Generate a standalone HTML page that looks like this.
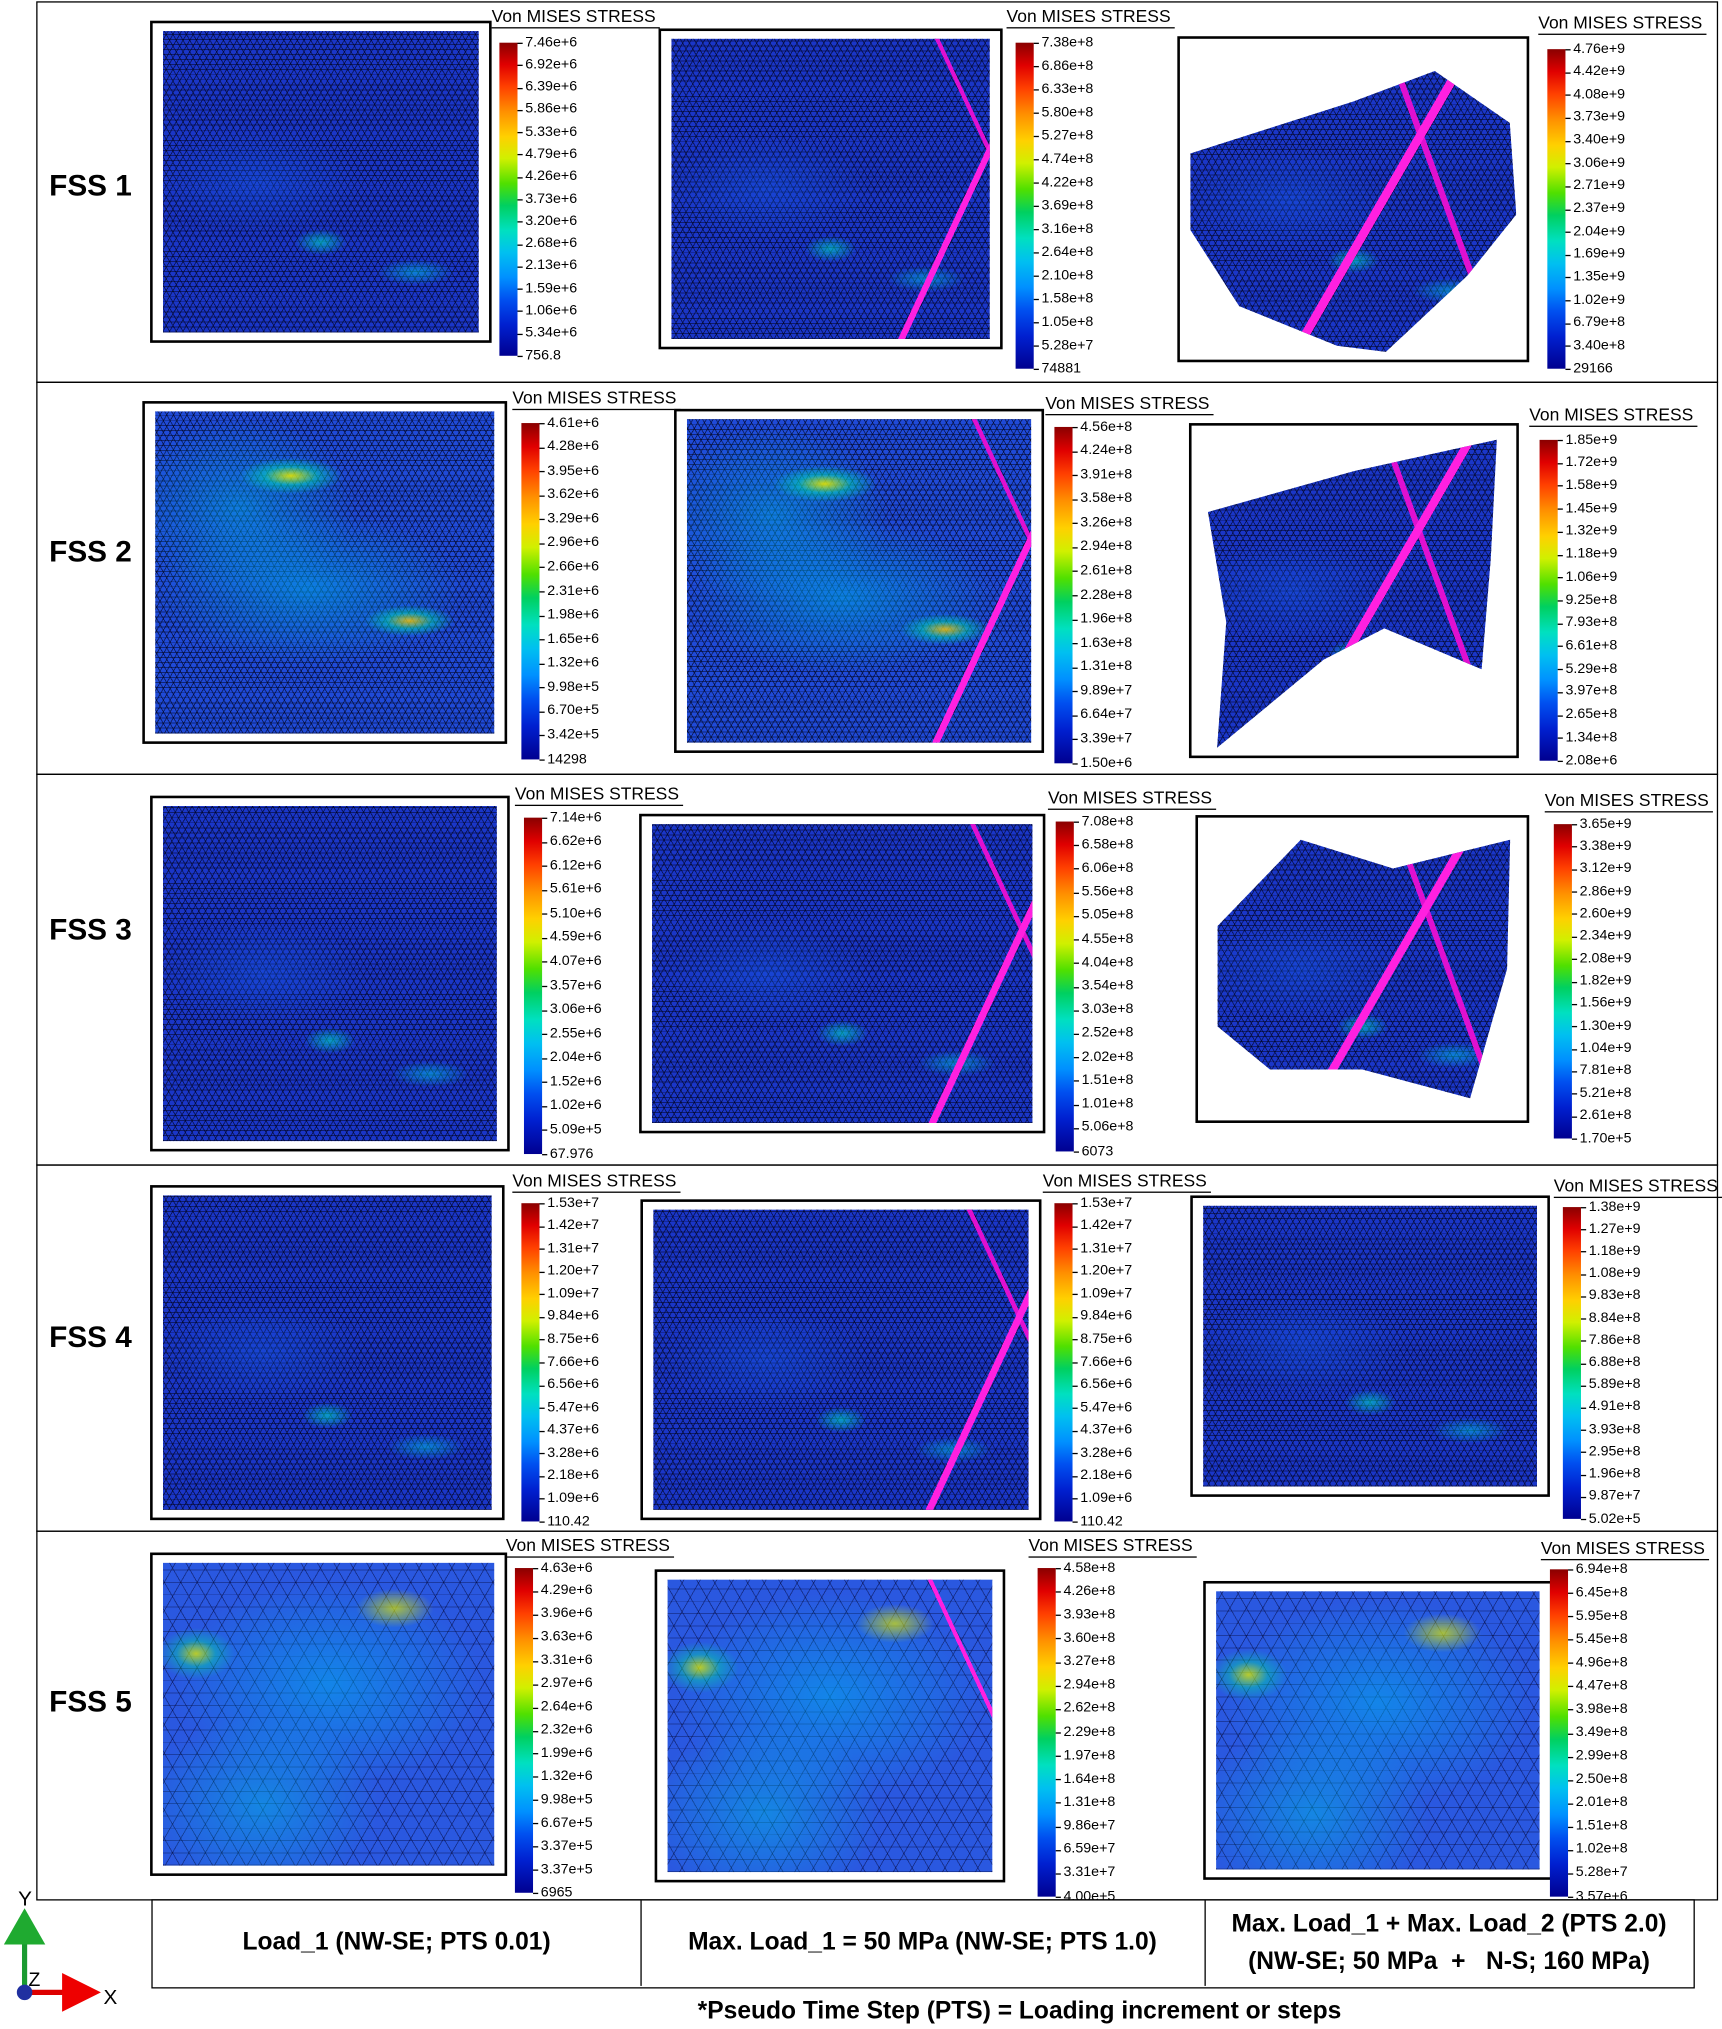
<!DOCTYPE html>
<html><head><meta charset="utf-8">
<style>
html,body{margin:0;padding:0;background:#fff;}
body{width:1722px;height:2029px;overflow:hidden;position:relative;font-family:"Liberation Sans",sans-serif;}
#wrap{position:absolute;left:0;top:0;width:1331px;height:1568px;transform:scale(1.29376);transform-origin:0 0;}
.row{position:absolute;left:28px;width:1300px;border:1.5px solid #000;box-sizing:border-box;}
.fss{position:absolute;left:38px;font-weight:bold;font-size:23px;color:#000;}
.frame{position:absolute;border:2px solid #000;box-sizing:border-box;background:#fff;}
.mesh{position:absolute;}
.title{position:absolute;font-size:13.5px;color:#000;white-space:nowrap;border-bottom:1.5px solid #000;padding-right:3px;line-height:16px;}
.bar{position:absolute;width:14px;background:linear-gradient(to bottom,#8a0000 0%,#e00000 7%,#ff4000 14%,#ff9000 22%,#ffd000 30%,#d0f000 37%,#50e000 45%,#00d060 52%,#00e0c0 60%,#00c0f0 67%,#0090ff 75%,#0050f0 82%,#0020d0 90%,#000090 100%);}
.lab{position:absolute;font-size:11px;color:#000;white-space:nowrap;line-height:11px;}
.tick{position:absolute;width:4px;height:1px;background:#000;}
.cell{position:absolute;display:flex;align-items:center;justify-content:center;text-align:center;font-weight:bold;font-size:19px;}
</style></head>
<body>
<div id="wrap">
<div class="row" style="top:1px;height:295px"></div>
<div class="row" style="top:295px;height:304px"></div>
<div class="row" style="top:598px;height:303px"></div>
<div class="row" style="top:900px;height:284px"></div>
<div class="row" style="top:1183px;height:286px"></div>
<div class="fss" style="top:130px">FSS 1</div>
<div class="fss" style="top:413px">FSS 2</div>
<div class="fss" style="top:705px">FSS 3</div>
<div class="fss" style="top:1020px">FSS 4</div>
<div class="fss" style="top:1302px">FSS 5</div>

<div style="position:absolute;left:117px;top:1468px;width:1193px;height:69px;border:1.5px solid #000;box-sizing:border-box">
 <div class="cell" style="left:0;top:0;width:377px;height:66px;border-right:1.5px solid #000">Load_1 (NW-SE; PTS 0.01)</div>
 <div class="cell" style="left:377px;top:0;width:436px;height:66px;border-right:1.5px solid #000">Max. Load_1 = 50 MPa (NW-SE; PTS 1.0)</div>
 <div class="cell" style="left:813px;top:0;width:378px;height:66px;line-height:29px">Max. Load_1 + Max. Load_2 (PTS 2.0)<br>(NW-SE; 50 MPa &nbsp;+ &nbsp; N-S; 160 MPa)</div>
</div>
<svg style="position:absolute;left:0;top:1455px" width="110" height="110">
 <text x="14" y="18" font-size="16" font-family="Liberation Sans">Y</text>
 <line x1="19" y1="85" x2="19" y2="40" stroke="#1a9a30" stroke-width="4"/>
 <polygon points="3,48 35,48 19,20" fill="#1faa30"/>
 <line x1="19" y1="85" x2="55" y2="85" stroke="#d00" stroke-width="4"/>
 <polygon points="48,70 48,100 78,85" fill="#e00"/>
 <circle cx="19" cy="85" r="6" fill="#2030a0"/>
 <text x="22" y="80" font-size="15" font-family="Liberation Sans">Z</text>
 <text x="80" y="94" font-size="16" font-family="Liberation Sans">X</text>
</svg>
<div style="position:absolute;left:0;width:1331px;top:1544px;text-align:center;padding-left:245px;box-sizing:border-box;font-weight:bold;font-size:19px">*Pseudo Time Step (PTS) = Loading increment or steps</div>
</div>

<script>
const labelsR1P1=["7.46e+6","6.92e+6","6.39e+6","5.86e+6","5.33e+6","4.79e+6","4.26e+6","3.73e+6","3.20e+6","2.68e+6","2.13e+6","1.59e+6","1.06e+6","5.34e+6","756.8"];
const labelsR1P2=["7.38e+8","6.86e+8","6.33e+8","5.80e+8","5.27e+8","4.74e+8","4.22e+8","3.69e+8","3.16e+8","2.64e+8","2.10e+8","1.58e+8","1.05e+8","5.28e+7","74881"];
const labelsR1P3=["4.76e+9","4.42e+9","4.08e+9","3.73e+9","3.40e+9","3.06e+9","2.71e+9","2.37e+9","2.04e+9","1.69e+9","1.35e+9","1.02e+9","6.79e+8","3.40e+8","29166"];
const labelsR2P1=["4.61e+6","4.28e+6","3.95e+6","3.62e+6","3.29e+6","2.96e+6","2.66e+6","2.31e+6","1.98e+6","1.65e+6","1.32e+6","9.98e+5","6.70e+5","3.42e+5","14298"];
const labelsR2P2=["4.56e+8","4.24e+8","3.91e+8","3.58e+8","3.26e+8","2.94e+8","2.61e+8","2.28e+8","1.96e+8","1.63e+8","1.31e+8","9.89e+7","6.64e+7","3.39e+7","1.50e+6"];
const labelsR2P3=["1.85e+9","1.72e+9","1.58e+9","1.45e+9","1.32e+9","1.18e+9","1.06e+9","9.25e+8","7.93e+8","6.61e+8","5.29e+8","3.97e+8","2.65e+8","1.34e+8","2.08e+6"];
const labelsR3P1=["7.14e+6","6.62e+6","6.12e+6","5.61e+6","5.10e+6","4.59e+6","4.07e+6","3.57e+6","3.06e+6","2.55e+6","2.04e+6","1.52e+6","1.02e+6","5.09e+5","67.976"];
const labelsR3P2=["7.08e+8","6.58e+8","6.06e+8","5.56e+8","5.05e+8","4.55e+8","4.04e+8","3.54e+8","3.03e+8","2.52e+8","2.02e+8","1.51e+8","1.01e+8","5.06e+8","6073"];
const labelsR3P3=["3.65e+9","3.38e+9","3.12e+9","2.86e+9","2.60e+9","2.34e+9","2.08e+9","1.82e+9","1.56e+9","1.30e+9","1.04e+9","7.81e+8","5.21e+8","2.61e+8","1.70e+5"];
const labelsR4P1=["1.53e+7","1.42e+7","1.31e+7","1.20e+7","1.09e+7","9.84e+6","8.75e+6","7.66e+6","6.56e+6","5.47e+6","4.37e+6","3.28e+6","2.18e+6","1.09e+6","110.42"];
const labelsR4P2=["1.53e+7","1.42e+7","1.31e+7","1.20e+7","1.09e+7","9.84e+6","8.75e+6","7.66e+6","6.56e+6","5.47e+6","4.37e+6","3.28e+6","2.18e+6","1.09e+6","110.42"];
const labelsR4P3=["1.38e+9","1.27e+9","1.18e+9","1.08e+9","9.83e+8","8.84e+8","7.86e+8","6.88e+8","5.89e+8","4.91e+8","3.93e+8","2.95e+8","1.96e+8","9.87e+7","5.02e+5"];
const labelsR5P1=["4.63e+6","4.29e+6","3.96e+6","3.63e+6","3.31e+6","2.97e+6","2.64e+6","2.32e+6","1.99e+6","1.32e+6","9.98e+5","6.67e+5","3.37e+5","3.37e+5","6965"];
const labelsR5P2=["4.58e+8","4.26e+8","3.93e+8","3.60e+8","3.27e+8","2.94e+8","2.62e+8","2.29e+8","1.97e+8","1.64e+8","1.31e+8","9.86e+7","6.59e+7","3.31e+7","4.00e+5"];
const labelsR5P3=["6.94e+8","6.45e+8","5.95e+8","5.45e+8","4.96e+8","4.47e+8","3.98e+8","3.49e+8","2.99e+8","2.50e+8","2.01e+8","1.51e+8","1.02e+8","5.28e+7","3.57e+6"];

const panels=[
 {r:1,p:1,f:[116,16,380,265],t:[380,5],b:[386,33,275],lab:labelsR1P1,st:"dark"},
 {r:1,p:2,f:[509,22,775,270],t:[778,5],b:[785,33,285],lab:labelsR1P2,st:"dark",mag:1},
 {r:1,p:3,f:[910,28,1182,280],t:[1189,10],b:[1196,38,285],lab:labelsR1P3,st:"dark",mag:2,warp:"polygon(0% 35%,50% 18%,75% 8%,98% 25%,100% 55%,85% 75%,60% 100%,45% 98%,15% 85%,0% 60%)"},
 {r:2,p:1,f:[110,310,392,575],t:[396,300],b:[403,327,587],lab:labelsR2P1,st:"mid"},
 {r:2,p:2,f:[521,316,807,582],t:[808,304],b:[815,330,590],lab:labelsR2P2,st:"mid",mag:1},
 {r:2,p:3,f:[919,327,1174,586],t:[1182,313],b:[1190,340,588],lab:labelsR2P3,st:"dark",mag:2,warp:"polygon(2% 25%,50% 12%,97% 2%,95% 40%,92% 75%,60% 62%,40% 72%,5% 100%,8% 60%)"},
 {r:3,p:1,f:[116,615,394,890],t:[398,606],b:[405,632,892],lab:labelsR3P1,st:"dark"},
 {r:3,p:2,f:[494,629,808,876],t:[810,609],b:[816,635,890],lab:labelsR3P2,st:"dark",mag:1},
 {r:3,p:3,f:[924,630,1182,868],t:[1194,611],b:[1201,637,880],lab:labelsR3P3,st:"dark",mag:2,warp:"polygon(3% 35%,30% 5%,60% 15%,98% 5%,97% 50%,85% 95%,50% 85%,20% 85%,3% 70%)"},
 {r:4,p:1,f:[116,916,390,1175],t:[396,905],b:[403,930,1176],lab:labelsR4P1,st:"dark"},
 {r:4,p:2,f:[495,927,805,1175],t:[806,905],b:[815,930,1176],lab:labelsR4P2,st:"dark",mag:1},
 {r:4,p:3,f:[920,924,1198,1157],t:[1201,909],b:[1208,933,1174],lab:labelsR4P3,st:"dark"},
 {r:5,p:1,f:[116,1200,392,1450],t:[391,1187],b:[398,1212,1463],lab:labelsR5P1,st:"light"},
 {r:5,p:2,f:[506,1213,777,1455],t:[795,1187],b:[802,1212,1466],lab:labelsR5P2,st:"light",mag:3},
 {r:5,p:3,f:[930,1222,1200,1453],t:[1191,1189],b:[1198,1213,1466],lab:labelsR5P3,st:"light"}
];
const wrap=document.getElementById('wrap');
const meshLines="repeating-linear-gradient(60deg,rgba(0,0,20,.6) 0 0.7px,transparent 0.7px 4.5px),repeating-linear-gradient(-60deg,rgba(0,0,20,.6) 0 0.7px,transparent 0.7px 4.5px),repeating-linear-gradient(0deg,rgba(0,0,20,.5) 0 0.7px,transparent 0.7px 3.9px)";
const meshBig="repeating-linear-gradient(60deg,rgba(0,0,40,.45) 0 0.7px,transparent 0.7px 11px),repeating-linear-gradient(-60deg,rgba(0,0,40,.45) 0 0.7px,transparent 0.7px 11px),repeating-linear-gradient(0deg,rgba(0,0,40,.35) 0 0.7px,transparent 0.7px 9.5px)";
function spots(st){
 if(st==="mid") return "radial-gradient(ellipse 40px 14px at 40% 20%,rgba(230,230,0,.9),rgba(0,220,180,.5) 50%,transparent 100%),radial-gradient(ellipse 35px 12px at 75% 65%,rgba(255,200,0,.8),rgba(0,220,180,.5) 50%,transparent 100%),radial-gradient(ellipse 120px 60px at 45% 55%,rgba(0,160,230,.6),transparent),radial-gradient(ellipse 90px 70px at 25% 30%,rgba(0,170,230,.5),transparent),";
 if(st==="light") return "radial-gradient(ellipse 30px 20px at 10% 30%,rgba(220,230,0,.8),rgba(0,220,160,.4) 50%,transparent),radial-gradient(ellipse 30px 15px at 70% 15%,rgba(220,230,0,.7),transparent),radial-gradient(ellipse 120px 80px at 50% 40%,rgba(0,170,240,.55),transparent),radial-gradient(ellipse 90px 70px at 30% 80%,rgba(0,180,230,.5),transparent),";
 return "radial-gradient(ellipse 20px 10px at 50% 70%,rgba(0,220,200,.6),transparent),radial-gradient(ellipse 30px 10px at 80% 80%,rgba(0,200,230,.5),transparent),radial-gradient(ellipse 80px 40px at 30% 50%,rgba(20,90,230,.4),transparent),";
}
const magStyles={
 1:"linear-gradient(115deg,transparent 80%,#ff20e0 80% 81.5%,transparent 81.5%),linear-gradient(65deg,transparent 88%,#e010d0 88% 89%,transparent 89%),",
 2:"linear-gradient(120deg,transparent 55%,#ff20e0 55% 57%,transparent 57%),linear-gradient(70deg,transparent 70%,#e010d0 70% 71.5%,transparent 71.5%),",
 3:"linear-gradient(65deg,transparent 86%,#ff20e0 86% 87%,transparent 87%),"
};
panels.forEach(P=>{
 const fr=document.createElement('div');
 fr.className='frame';
 
 
 const [x1,y1,x2,y2]=P.f;
 fr.style.cssText+=`left:${x1}px;top:${y1}px;width:${x2-x1}px;height:${y2-y1}px;`;
 wrap.appendChild(fr);
 const m=document.createElement('div');
 m.className='mesh';
 
 
 const base=P.st==="light"?"#2a58e0":(P.st==="mid"?"#1f4ad8":"#1a36c8");
 m.style.left='8px';m.style.top='6px';
 m.style.width=(x2-x1-20)+'px';m.style.height=(y2-y1-16)+'px';
 const mag=P.mag?magStyles[P.mag]:"";
 m.style.background=mag+spots(P.st)+(P.st==="light"?meshBig:meshLines)+","+base;
 if(P.warp) m.style.clipPath=P.warp;
 fr.appendChild(m);
 const t=document.createElement('div');
 t.className='title';
 
 
 t.textContent='Von MISES STRESS';
 t.style.left=P.t[0]+'px';t.style.top=P.t[1]+'px';
 wrap.appendChild(t);
 const [bx,by1,by2]=P.b;
 const bar=document.createElement('div');
 bar.className='bar';
 
 
 bar.style.left=bx+'px';bar.style.top=by1+'px';bar.style.height=(by2-by1)+'px';
 wrap.appendChild(bar);
 const n=P.lab.length;
 const yScale=i=>by1+(by2-by1)*i/(n-1);
 P.lab.forEach((s,i)=>{
  const tk=document.createElement('div');
  tk.className='tick';
  
  
  tk.style.left=(bx+14)+'px';tk.style.top=yScale(i)+'px';
  wrap.appendChild(tk);
  const l=document.createElement('div');
  l.className='lab';
  
  
  l.textContent=s;
  l.style.left=(bx+20)+'px';l.style.top=(yScale(i)-5.5)+'px';
  wrap.appendChild(l);
 });
});
</script>
</body></html>
